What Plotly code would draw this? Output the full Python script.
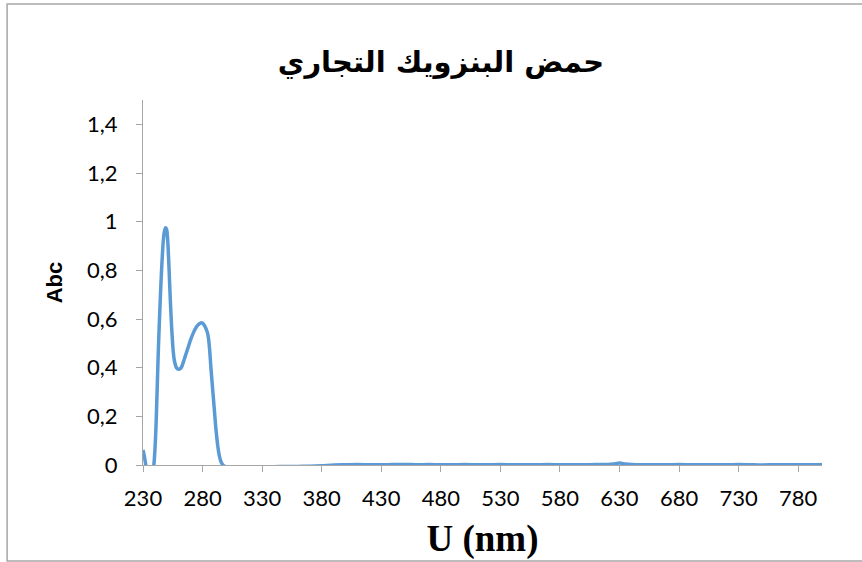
import plotly.graph_objects as go

# UV absorption spectrum of commercial benzoic acid
wavelength_peak = [230, 231, 232, 233, 234, 236, 238, 239, 240, 241, 242, 243, 244,
                   245, 246, 247, 248, 249, 250, 251, 252, 253, 254, 255, 256, 257,
                   258, 259, 260, 261, 262, 263, 264, 265, 266, 267, 268, 270, 272,
                   274, 276, 278, 279, 280, 282, 284, 285, 286, 287, 288, 289, 290,
                   291, 292, 293, 294, 295, 296, 297, 298, 300]
absorbance_peak = [0.062, 0.04, 0.01, -0.02, -0.08, -0.1, -0.04, -0.005, 0.06, 0.17,
                   0.33, 0.49, 0.62, 0.74, 0.84, 0.92, 0.96, 0.975, 0.965, 0.9, 0.79,
                   0.67, 0.57, 0.49, 0.44, 0.415, 0.40, 0.395, 0.394, 0.395, 0.40,
                   0.41, 0.425, 0.44, 0.455, 0.47, 0.485, 0.515, 0.54, 0.56, 0.575,
                   0.583, 0.585, 0.583, 0.57, 0.545, 0.52, 0.47, 0.40, 0.34, 0.28,
                   0.22, 0.16, 0.11, 0.07, 0.04, 0.02, 0.008, 0.0, -0.004, -0.007]

wavelength_tail = [310, 320, 330, 340, 350, 360, 370, 380, 390, 400, 410, 420, 430,
                   440, 450, 460, 470, 480, 490, 500, 510, 520, 530, 540, 550, 560,
                   570, 580, 590, 600, 610, 620, 625, 630, 635, 640, 650, 660, 670,
                   680, 690, 700, 710, 720, 730, 740, 750, 760, 770, 780, 790, 800]
absorbance_tail = [-0.007, -0.007, -0.007, -0.007, -0.006, -0.006, -0.005, -0.003,
                   0.0, 0.001, 0.002, 0.001, 0.001, 0.002, 0.002, 0.001, 0.002,
                   0.001, 0.001, 0.002, 0.001, 0.001, 0.002, 0.001, 0.001, 0.001,
                   0.002, 0.001, 0.001, 0.001, 0.002, 0.002, 0.004, 0.008, 0.004,
                   0.002, 0.001, 0.001, 0.001, 0.002, 0.001, 0.001, 0.001, 0.001,
                   0.002, 0.001, 0.0, 0.001, 0.001, 0.001, 0.001, 0.001]

wavelength = wavelength_peak + wavelength_tail
absorbance = absorbance_peak + absorbance_tail

x_ticks = list(range(230, 800, 50))
y_ticks = [0, 0.2, 0.4, 0.6, 0.8, 1.0, 1.2, 1.4]
y_tick_labels = ["0", "0,2", "0,4", "0,6", "0,8", "1", "1,2", "1,4"]

title_text = "حمض البنزويك التجاري"
x_title = "U (nm)"
y_title = "Abc"

axis_grey = "#a6a6a6"

fig = go.Figure()
fig.add_trace(go.Scatter(
    x=wavelength, y=absorbance, mode="lines",
    line=dict(color="#5b9bd5", width=3.5, shape="spline", smoothing=0.6),
    hoverinfo="skip", showlegend=False,
))

fig.update_layout(
    width=862, height=562,
    margin=dict(l=143, r=40, t=100, b=97),
    paper_bgcolor="white", plot_bgcolor="white",
    showlegend=False,
    title=dict(text=title_text, x=441 / 862, xanchor="center", xref="container",
               y=1 - 62 / 562, yanchor="middle", yref="container",
               font=dict(family="DejaVu Sans", size=29, color="black", weight="bold")),
    xaxis=dict(
        range=[230, 800], tickvals=x_ticks, ticktext=[str(v) for v in x_ticks],
        showgrid=False, zeroline=False, showline=True, linecolor=axis_grey,
        linewidth=1, ticks="outside", ticklen=6, tickcolor=axis_grey,
        ticklabelstandoff=8,
        tickfont=dict(family="Lato", size=22, color="black"),
        title=dict(text=x_title, standoff=14,
                   font=dict(family="Liberation Serif", size=37, color="black",
                             weight="bold")),
    ),
    yaxis=dict(
        range=[0, 1.5], tickvals=y_ticks, ticktext=y_tick_labels,
        showgrid=False, zeroline=False, showline=True, linecolor=axis_grey,
        linewidth=1, ticks="outside", ticklen=6, tickcolor=axis_grey,
        ticklabelstandoff=14,
        tickfont=dict(family="Lato", size=22, color="black"),
        title=dict(text=y_title, standoff=18,
                   font=dict(family="Liberation Sans", size=22, color="black",
                             weight="bold")),
    ),
    shapes=[dict(type="rect", xref="paper", yref="paper",
                 x0=-136.5 / 682, x1=1 + 60 / 682, y0=-96 / 365, y1=1 + 96 / 365,
                 line=dict(color="#a6a6a6", width=1.5), layer="below")],
)

fig.write_html("out.html")
